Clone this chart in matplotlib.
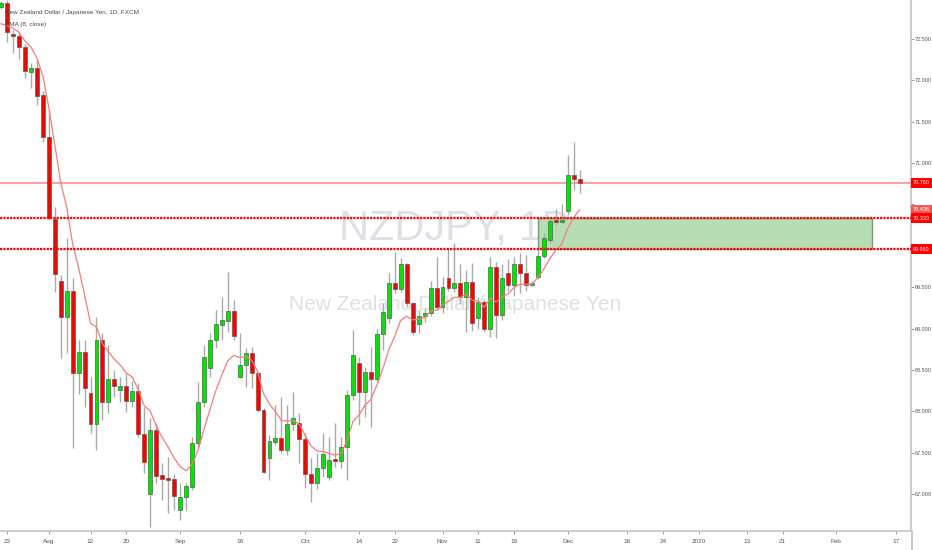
import matplotlib
matplotlib.use("Agg")
import matplotlib.pyplot as plt
from matplotlib.patches import Rectangle
from matplotlib.lines import Line2D
from matplotlib.transforms import blended_transform_factory
import numpy as np
import pandas as pd

plt.rcParams['font.family'] = ['Liberation Sans', 'DejaVu Sans']

# NZDJPY 1D (FXCM), trading day index: Jul 23 2019 = 0, first candle is Jul 22 (-1)
opens = [72.88, 72.93, 72.56, 72.53, 72.40, 72.10, 72.15, 71.82, 71.31, 70.33,
         69.58, 69.14, 69.45, 68.46, 68.72, 68.22, 67.85, 68.86, 68.11, 68.39,
         68.26, 68.31, 68.13, 68.25, 67.73, 67.00, 67.78, 67.23, 67.20, 67.18,
         66.81, 66.97, 67.09, 67.62, 68.11, 68.52, 68.86, 69.04, 69.09, 69.21,
         68.42, 68.56, 68.71, 68.46, 68.02, 67.44, 67.63, 67.68, 67.53, 67.85,
         67.86, 67.67, 67.24, 67.13, 67.32, 67.21, 67.43, 67.40, 67.57, 68.20,
         68.58, 68.23, 68.48, 68.39, 68.93, 69.13, 69.55, 69.48, 69.78, 69.31,
         69.06, 69.15, 69.19, 69.49, 69.26, 69.61, 69.49, 69.55, 69.38, 69.56,
         69.13, 69.32, 68.99, 69.74, 69.17, 69.67, 69.53, 69.78, 69.67, 69.53,
         69.62, 69.88, 70.07, 70.31, 70.29, 70.42, 70.86, 70.81]
highs = [72.96, 72.97, 72.61, 72.57, 72.44, 72.21, 72.24, 71.87, 71.64, 70.47,
         69.65, 70.09, 69.61, 68.86, 68.86, 68.42, 69.14, 68.95, 68.80, 68.50,
         68.42, 68.46, 68.37, 68.34, 68.05, 67.92, 67.86, 67.38, 67.45, 67.25,
         67.14, 67.14, 67.69, 68.36, 68.80, 68.95, 69.22, 69.38, 69.68, 69.35,
         68.95, 68.77, 68.78, 68.48, 68.04, 67.71, 68.08, 68.17, 68.08, 68.23,
         67.98, 67.74, 67.44, 67.50, 67.74, 67.69, 67.86, 67.69, 68.26, 68.98,
         68.66, 68.54, 68.78, 69.00, 69.31, 69.67, 69.93, 69.85, 69.79, 69.32,
         69.22, 69.25, 69.58, 69.87, 69.62, 69.97, 70.03, 69.78, 69.71, 69.79,
         69.38, 69.36, 69.86, 69.80, 69.78, 69.84, 69.86, 69.91, 69.89, 69.57,
         69.99, 70.15, 70.35, 70.45, 70.51, 71.10, 71.25, 70.92]
lows = [72.86, 72.46, 72.33, 72.26, 72.03, 71.91, 71.70, 71.25, 70.31, 69.44,
        68.65, 68.71, 67.56, 68.21, 68.05, 67.74, 67.53, 67.90, 67.98, 68.17,
        68.11, 67.99, 68.05, 67.69, 67.26, 66.60, 67.14, 66.93, 66.77, 66.81,
        66.69, 66.81, 67.05, 67.57, 68.05, 68.42, 68.77, 68.86, 68.96, 68.86,
        68.40, 68.29, 68.28, 67.99, 67.26, 67.17, 67.60, 67.50, 67.47, 67.78,
        67.38, 67.07, 66.91, 67.06, 67.21, 67.17, 67.33, 67.32, 67.17, 68.14,
        67.84, 67.93, 67.81, 68.36, 68.74, 69.07, 69.43, 69.44, 69.26, 68.92,
        68.95, 69.08, 69.15, 69.22, 69.19, 69.45, 69.44, 69.30, 68.96, 68.97,
        69.00, 68.96, 68.90, 68.89, 69.10, 69.45, 69.40, 69.43, 69.45, 69.52,
        69.60, 69.85, 70.03, 70.25, 70.27, 70.37, 70.67, 70.64]
closes = [72.93, 72.58, 72.53, 72.40, 72.11, 72.15, 71.81, 71.31, 70.34, 69.66,
          69.14, 69.45, 68.46, 68.72, 68.28, 67.85, 68.86, 68.11, 68.39, 68.31,
          68.31, 68.13, 68.25, 67.73, 67.39, 67.78, 67.22, 67.18, 67.17, 66.98,
          66.97, 67.10, 67.62, 68.11, 68.66, 68.86, 69.06, 69.10, 69.21, 68.91,
          68.56, 68.71, 68.46, 68.02, 67.27, 67.64, 67.68, 67.53, 67.85, 67.92,
          67.67, 67.24, 67.13, 67.32, 67.49, 67.41, 67.40, 67.57, 68.20, 68.68,
          68.23, 68.48, 68.39, 68.93, 69.20, 69.55, 69.48, 69.78, 69.31, 68.96,
          69.15, 69.19, 69.49, 69.26, 69.50, 69.49, 69.55, 69.38, 69.56, 69.07,
          69.32, 68.99, 69.74, 69.17, 69.61, 69.53, 69.78, 69.67, 69.53, 69.55,
          69.88, 70.09, 70.30, 70.29, 70.30, 70.86, 70.81, 70.76]
# closes before the visible window, only used to seed the EMA
prior_closes = [72.55, 72.60, 72.58, 72.66, 72.70]

tick_days = [0, 7, 14, 20, 29, 39, 50, 59, 65, 73, 79, 85, 94, 104, 110, 116, 124, 130, 139, 149]
tick_names = ['23', 'Aug', '12', '20', 'Sep', '16', 'Oct', '14', '22', 'Nov', '11', '19',
              'Dec', '16', '24', '2020', '13', '21', 'Feb', '17']
price_ticks = [67.0, 67.5, 68.0, 68.5, 69.0, 69.5, 70.0, 70.5, 71.0, 71.5, 72.0, 72.5]
hidden_ticks = [70.0, 70.5]  # covered by the price tags

last_price = 70.760
ema_last = 70.436
zone_top = 70.333
zone_bottom = 69.960
zone_start, zone_end = 89, 145

o, h, l, c = map(np.array, (opens, highs, lows, closes))
days = np.arange(len(o)) - 1
ema = pd.Series(prior_closes + closes).ewm(span=8, adjust=False).mean().values[len(prior_closes):]

fig = plt.figure(figsize=(9.32, 5.5), dpi=100)
ax = fig.add_axes([0, 19 / 550, 911 / 932, 531 / 550])
ax.set_xlim(-1.173, 151.53)
ax.set_ylim(66.556, 72.969)

# watermark
ax.text(0.5, 0.569, 'NZDJPY, 1D', transform=ax.transAxes, ha='center', va='center',
        fontsize=30, color='#dfe0e5', zorder=0)
ax.text(0.5, 0.426, 'New Zealand Dollar / Japanese Yen', transform=ax.transAxes, ha='center',
        va='center', fontsize=15, color='#dfe0e5', zorder=0)

# support zone
ax.add_patch(Rectangle((zone_start, zone_bottom), zone_end - zone_start, zone_top - zone_bottom,
                       facecolor='#b6ddb4', edgecolor='#6f9f6f', linewidth=1, zorder=1))
ax.axhline(last_price, color='#f9a0a0', linewidth=1.4, zorder=2)

# candles
up = c >= o
ax.vlines(days, l, h, color='#a9a9a9', linewidth=1, zorder=3)
ax.bar(days, np.maximum(np.abs(c - o), 0.02), bottom=np.minimum(o, c), width=0.66,
       color=np.where(up, '#00e600', '#ff0000'), edgecolor='#5a5a5a', linewidth=0.5, zorder=4)
ax.plot(days, ema, color='#f77c7c', linewidth=0.9, zorder=5)

for level in (zone_top, zone_bottom):
    ax.axhline(level, color='#ff0000', linewidth=1.6, linestyle=(0, (1, 0.5)), zorder=6)

# header
ax.text(0.0055, 0.977, 'New Zealand Dollar / Japanese Yen, 1D, FXCM', transform=ax.transAxes,
        fontsize=4.6, color='#4a4a4a', va='center', zorder=7)
ax.text(0.0055, 0.953, 'EMA (8, close)', transform=ax.transAxes,
        fontsize=4.6, color='#4a4a4a', va='center', zorder=7)

# axes
for side in ('top', 'left'):
    ax.spines[side].set_visible(False)
for side in ('right', 'bottom'):
    ax.spines[side].set_color('#c4c4c4')
    ax.spines[side].set_linewidth(1.2)
ax.yaxis.tick_right()
ax.set_yticks(price_ticks)
ax.set_yticklabels(['' if p in hidden_ticks else '%.3f' % p for p in price_ticks])
ax.set_xticks(tick_days)
ax.set_xticklabels(tick_names)
ax.tick_params(axis='y', length=2, width=0.6, color='#888888', labelsize=4.0,
               labelcolor='#555555', pad=1)
ax.tick_params(axis='x', length=2.5, width=0.6, color='#888888', labelsize=4.6,
               labelcolor='#555555', pad=3)
fig.add_artist(Line2D([911.5 / 932] * 2, [0, 19 / 550], color='#c4c4c4', linewidth=1.2,
                      transform=fig.transFigure))

# price tags on the scale
tag_tr = blended_transform_factory(ax.transAxes, ax.transData)
tag_w = 21 / 911
tag_h = 10 / 82.8
for price, col in ((last_price, '#ff0000'), (ema_last, '#f25a5a'),
                   (zone_top, '#ff0000'), (zone_bottom, '#ff0000')):
    ax.add_patch(Rectangle((1.0, price - tag_h / 2), tag_w, tag_h, transform=tag_tr,
                           facecolor=col, edgecolor='none', clip_on=False, zorder=10))
    ax.text(1.0 + tag_w / 2, price, '%.3f' % price, transform=tag_tr, ha='center',
            va='center', fontsize=4.0, color='white', clip_on=False, zorder=11)

fig.savefig('out.png', dpi=100)
